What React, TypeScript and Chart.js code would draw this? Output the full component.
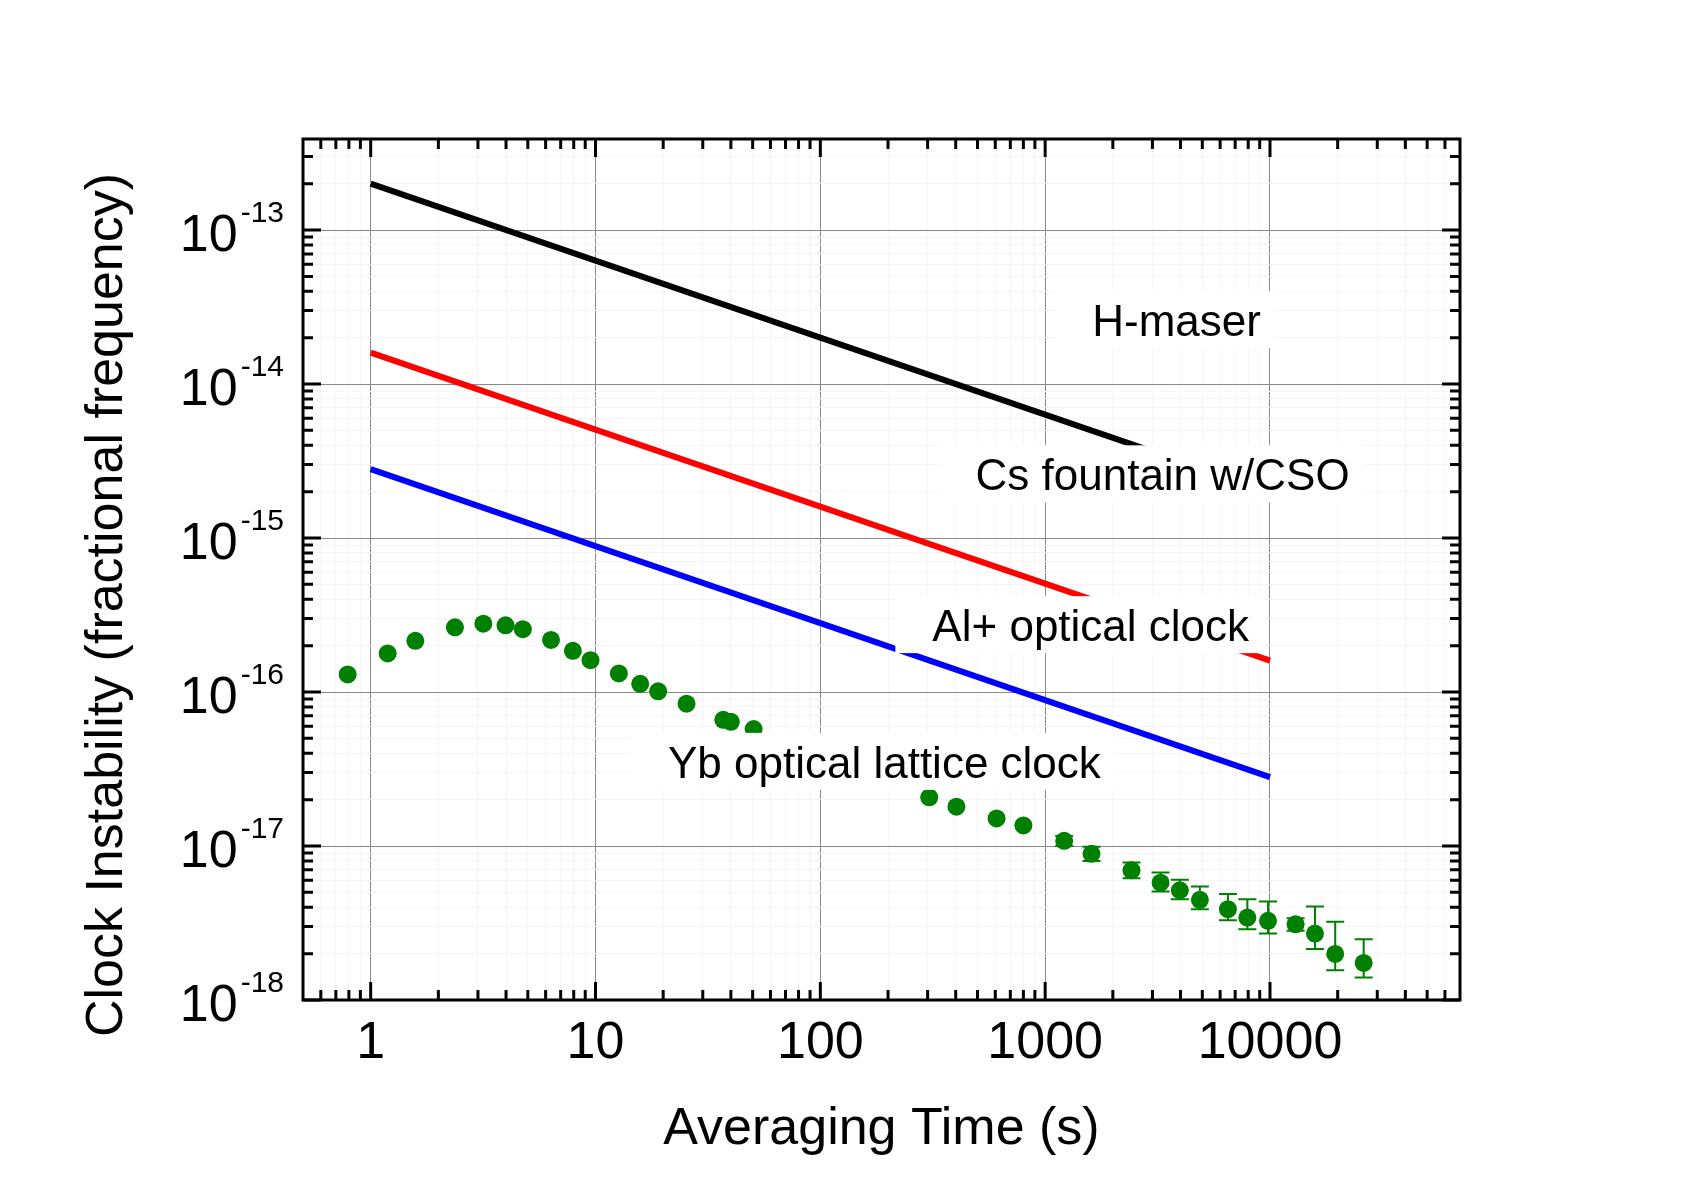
import React, { useEffect, useRef } from "react";
import { Chart, registerables } from "chart.js";

Chart.register(...registerables);

// ---------- data ----------
const lineTau = [1, 10000];
const hMaser = [2.0e-13, 2.0e-15];
const csFountain = [1.6e-14, 1.6e-16];
const alClock = [2.8e-15, 2.8e-17];

const ybTau = [
  0.79, 1.19, 1.58, 2.37, 3.17, 3.98, 4.75, 6.34, 7.93, 9.5, 12.7, 15.8, 19.0,
  25.4, 37, 40, 50.5, 305, 403, 608, 800, 1215, 1607, 2421, 3260, 3972, 4876,
  6500, 7930, 9800, 13000, 15850, 19500, 26100,
];
const ybSigma = [
  1.3e-16, 1.78e-16, 2.15e-16, 2.63e-16, 2.78e-16, 2.71e-16, 2.56e-16,
  2.18e-16, 1.85e-16, 1.61e-16, 1.32e-16, 1.13e-16, 1.01e-16, 8.4e-17, 6.6e-17,
  6.4e-17, 5.75e-17, 2.07e-17, 1.8e-17, 1.51e-17, 1.36e-17, 1.08e-17, 8.9e-18,
  6.95e-18, 5.78e-18, 5.16e-18, 4.47e-18, 3.89e-18, 3.43e-18, 3.27e-18,
  3.1e-18, 2.7e-18, 1.99e-18, 1.74e-18,
];
const ybUpper = [
  null, null, null, null, null, null, null, null, null, null, null, null, null,
  null, null, null, null, null, null, null, null, 1.16e-17, 9.9e-18, 7.8e-18,
  6.72e-18, 6.03e-18, 5.46e-18, 4.87e-18, 4.51e-18, 4.36e-18, 3.4e-18,
  4.05e-18, 3.22e-18, 2.48e-18,
];
const ybLower = [
  null, null, null, null, null, null, null, null, null, null, null, null, null,
  null, null, null, null, null, null, null, null, 1.0e-17, 8.0e-18, 6.17e-18,
  5.06e-18, 4.51e-18, 3.89e-18, 3.3e-18, 2.88e-18, 2.7e-18, 2.82e-18,
  2.14e-18, 1.56e-18, 1.4e-18,
];

const xMajorTicks = [1, 10, 100, 1000, 10000];
const xTickLabels = ["1", "10", "100", "1000", "10000"];
const yMajorTicks = [1e-18, 1e-17, 1e-16, 1e-15, 1e-14, 1e-13];
const yTickExponents = ["-18", "-17", "-16", "-15", "-14", "-13"];

const annotationTexts = [
  "H-maser",
  "Cs fountain w/CSO",
  "Al+ optical clock",
  "Yb optical lattice clock",
];
const annotationTau = [1620, 490, 315, 21.0];
const annotationSigma = [2.05e-14, 2.04e-15, 2.14e-16, 2.77e-17];

const xTitle = "Averaging Time (s)";
const yTitle = "Clock Instability (fractional frequency)";

// ---------- style ----------
const X_MIN = 0.5;
const X_MAX = 70000;
const Y_MIN = 1e-18;
const Y_MAX = 3.9e-13;
const FONT = '"Liberation Sans", Arial, Helvetica, sans-serif';
const GREEN = "rgb(0,128,0)";
const W = 1695;
const H = 1198;

function buildTicks(decades: number[], min: number, max: number) {
  const out: { value: number; major: boolean }[] = [];
  decades.forEach((d) => {
    for (let k = 1; k <= 9; k++) {
      const v = k * d;
      if (v >= min * 0.999999 && v <= max * 1.000001) out.push({ value: v, major: k === 1 });
    }
  });
  return out;
}

const xAllTicks = buildTicks([xMajorTicks[0] / 10, ...xMajorTicks], X_MIN * 1.01, X_MAX * 0.99);
const yAllTicks = buildTicks(yMajorTicks, Y_MIN, Y_MAX * 0.99);

const decorPlugin = {
  id: "decor",
  beforeDatasetsDraw(chart: any) {
    const { ctx } = chart;
    const xs = chart.scales.x;
    const ys = chart.scales.y;
    ctx.save();
    ctx.strokeStyle = GREEN;
    ctx.lineWidth = 2;
    ybTau.forEach((t, i) => {
      const hi = ybUpper[i];
      const lo = ybLower[i];
      if (hi == null || lo == null) return;
      const px = xs.getPixelForValue(t);
      const y1 = ys.getPixelForValue(hi);
      const y2 = ys.getPixelForValue(lo);
      ctx.beginPath();
      ctx.moveTo(px, y1);
      ctx.lineTo(px, y2);
      ctx.moveTo(px - 9, y1);
      ctx.lineTo(px + 9, y1);
      ctx.moveTo(px - 9, y2);
      ctx.lineTo(px + 9, y2);
      ctx.stroke();
    });
    ctx.restore();
  },
  afterDatasetsDraw(chart: any) {
    const { ctx, chartArea } = chart;
    const { left, right, top, bottom } = chartArea;
    const xs = chart.scales.x;
    const ys = chart.scales.y;
    ctx.save();

    // annotation labels with white boxes
    ctx.font = `44px ${FONT}`;
    ctx.textBaseline = "alphabetic";
    ctx.textAlign = "left";
    annotationTexts.forEach((txt, i) => {
      const px = xs.getPixelForValue(annotationTau[i]);
      const py = ys.getPixelForValue(annotationSigma[i]);
      const w = ctx.measureText(txt).width;
      ctx.fillStyle = "#ffffff";
      ctx.fillRect(px - 37, py - 45, w + 52, 57);
      ctx.fillStyle = "#000000";
      ctx.fillText(txt, px, py);
    });

    // inward ticks on all four sides
    ctx.strokeStyle = "#000000";
    ctx.lineWidth = 3;
    ctx.beginPath();
    xAllTicks.forEach((t) => {
      const px = xs.getPixelForValue(t.value);
      const len = t.major ? 18 : 10;
      ctx.moveTo(px, bottom);
      ctx.lineTo(px, bottom - len);
      ctx.moveTo(px, top);
      ctx.lineTo(px, top + len);
    });
    yAllTicks.forEach((t) => {
      const py = ys.getPixelForValue(t.value);
      const len = t.major ? 18 : 10;
      ctx.moveTo(left, py);
      ctx.lineTo(left + len, py);
      ctx.moveTo(right, py);
      ctx.lineTo(right - len, py);
    });
    ctx.stroke();

    // frame
    ctx.lineWidth = 3;
    ctx.strokeRect(left, top, right - left, bottom - top);

    // x tick labels
    ctx.fillStyle = "#000000";
    ctx.font = `52px ${FONT}`;
    ctx.textAlign = "center";
    xMajorTicks.forEach((v, i) => {
      const px = xs.getPixelForValue(v);
      ctx.fillText(xTickLabels[i], px, bottom + 58);
    });

    // y tick labels with superscript exponents
    yMajorTicks.forEach((v, i) => {
      const py = ys.getPixelForValue(v);
      ctx.textAlign = "right";
      ctx.font = `30px ${FONT}`;
      const sx = left - 19;
      ctx.fillText(yTickExponents[i], sx, py - 8);
      const sw = ctx.measureText(yTickExponents[i]).width;
      ctx.font = `52px ${FONT}`;
      ctx.fillText("10", sx - sw - 3, py + 21);
    });

    // axis titles
    ctx.font = `52px ${FONT}`;
    ctx.textAlign = "center";
    ctx.fillText(xTitle, (left + right) / 2, bottom + 144);
    ctx.translate(122, 605);
    ctx.rotate(-Math.PI / 2);
    ctx.fillText(yTitle, 0, 0);

    ctx.restore();
  },
};

export default function App() {
  const canvasRef = useRef<HTMLCanvasElement | null>(null);

  useEffect(() => {
    if (!canvasRef.current) return;
    const toXY = (xsArr: number[], ysArr: number[]) =>
      xsArr.map((x, i) => ({ x, y: ysArr[i] }));

    const lineDs = (label: string, vals: number[], color: string) => ({
      label,
      data: toXY(lineTau, vals),
      showLine: true,
      borderColor: color,
      backgroundColor: color,
      borderWidth: 6,
      pointRadius: 0,
      pointHoverRadius: 0,
      fill: false,
      tension: 0,
    });

    const gridColor = (ctx: any) =>
      ctx.tick && ctx.tick.major ? "#8a8a8a" : "#f5f5f5";

    const chart = new Chart(canvasRef.current, {
      type: "scatter",
      data: {
        datasets: [
          lineDs("H-maser", hMaser, "#000000"),
          lineDs("Cs fountain w/CSO", csFountain, "#ff0000"),
          lineDs("Al+ optical clock", alClock, "#0000ff"),
          {
            label: "Yb optical lattice clock",
            data: toXY(ybTau, ybSigma),
            showLine: false,
            pointRadius: 9,
            pointHoverRadius: 9,
            pointBackgroundColor: GREEN,
            pointBorderColor: GREEN,
            pointBorderWidth: 0,
          } as any,
        ],
      },
      options: {
        responsive: false,
        maintainAspectRatio: false,
        devicePixelRatio: 1,
        animation: false,
        events: [],
        layout: {
          padding: { left: 303, top: 139, right: W - 1460, bottom: H - 1000 },
        },
        plugins: {
          legend: { display: false },
          tooltip: { enabled: false },
          title: { display: false },
        },
        scales: {
          x: {
            type: "logarithmic",
            min: X_MIN,
            max: X_MAX,
            afterBuildTicks: (axis: any) => {
              axis.ticks = xAllTicks.map((t) => ({ ...t }));
            },
            afterFit: (axis: any) => {
              axis.height = 0;
            },
            ticks: { display: false },
            grid: { color: gridColor, lineWidth: 1, drawTicks: false },
            border: { display: false },
          },
          y: {
            type: "logarithmic",
            min: Y_MIN,
            max: Y_MAX,
            afterBuildTicks: (axis: any) => {
              axis.ticks = yAllTicks.map((t) => ({ ...t }));
            },
            afterFit: (axis: any) => {
              axis.width = 0;
            },
            ticks: { display: false },
            grid: { color: gridColor, lineWidth: 1, drawTicks: false },
            border: { display: false },
          },
        },
      } as any,
      plugins: [decorPlugin],
    });
    return () => chart.destroy();
  }, []);

  return (
    <div style={{ position: "absolute", left: 0, top: 0, width: W, height: H, background: "#ffffff" }}>
      <canvas
        ref={canvasRef}
        width={W}
        height={H}
        style={{ display: "block", width: W, height: H }}
      />
    </div>
  );
}
